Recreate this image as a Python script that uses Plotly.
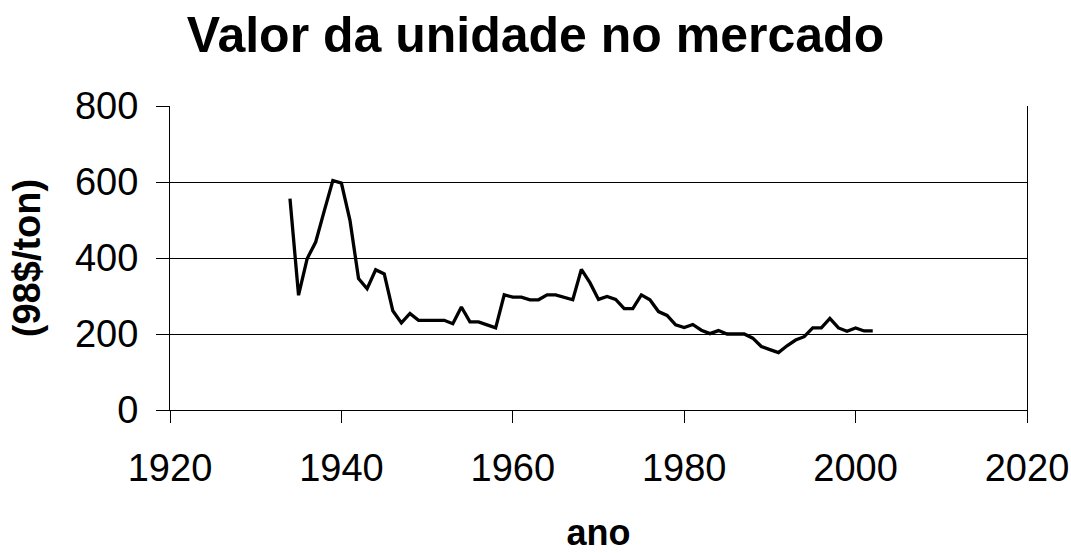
import plotly.graph_objects as go

years = list(range(1934, 2003))
values = [
    556, 302, 398, 442, 524, 604, 597, 499, 346, 319,   # 1934-1943
    369, 358, 261, 229, 254, 236, 236, 236, 236, 227,   # 1944-1953
    271, 232, 232, 224, 216, 303, 297, 297, 290, 290,   # 1954-1963
    303, 303, 296, 290, 370, 335, 291, 299, 291, 267,   # 1964-1973
    267, 303, 290, 259, 249, 224, 217, 225, 210, 201,   # 1974-1983
    209, 200, 200, 200, 189, 167, 159, 151, 169, 184,   # 1984-1993
    193, 216, 216, 241, 216, 207, 216, 208, 208,        # 1994-2002
]

title_text = "Valor da unidade no mercado"
x_title = "ano"
y_title = "(98$/ton)"
x_ticks = [1920, 1940, 1960, 1980, 2000, 2020]
y_ticks = [0, 200, 400, 600, 800]

FONT = "Liberation Sans, Arial, sans-serif"

fig = go.Figure()
fig.add_trace(go.Scatter(
    x=years, y=values, mode="lines",
    line=dict(color="black", width=3.3),
    showlegend=False, hoverinfo="x+y",
))

fig.update_layout(
    width=1071, height=553,
    paper_bgcolor="white", plot_bgcolor="white",
    margin=dict(l=170, r=44, t=106, b=143),
    font=dict(family=FONT, color="black"),
    title=dict(
        text="<b>" + title_text + "</b>",
        x=0.5, xanchor="center", xref="container",
        y=1 - 34.5 / 553, yanchor="middle", yref="container",
        font=dict(size=50, family=FONT, color="black"),
    ),
)

fig.update_xaxes(
    range=[1920, 2020], tickvals=x_ticks, ticktext=[str(t) for t in x_ticks],
    showgrid=False, zeroline=False,
    showline=True, linecolor="black", linewidth=1, mirror=False,
    ticks="outside", ticklen=12, tickcolor="black", tickwidth=1,
    tickfont=dict(size=38, family=FONT, color="black"),
    ticklabelstandoff=12,
    title=dict(text="<b>" + x_title + "</b>", font=dict(size=36, family=FONT, color="black"), standoff=38),
    automargin=False,
)
fig.update_yaxes(
    range=[0, 800], tickvals=y_ticks,
    showgrid=True, gridcolor="black", gridwidth=1,
    zeroline=False,
    showline=True, linecolor="black", linewidth=1, mirror=True,
    ticks="outside", ticklen=13, tickcolor="black", tickwidth=1,
    tickfont=dict(size=38, family=FONT, color="black"),
    ticklabelstandoff=10,
    title=dict(text="<b>" + y_title + "</b>", font=dict(size=38, family=FONT, color="black"), standoff=22),
    automargin=False,
)

# remove the default 8px page margin so the figure fills the window exactly
fig.write_html(
    "out.html",
    config={"displayModeBar": False},
    post_script="document.body.style.margin='0';document.body.style.overflow='hidden';",
)
